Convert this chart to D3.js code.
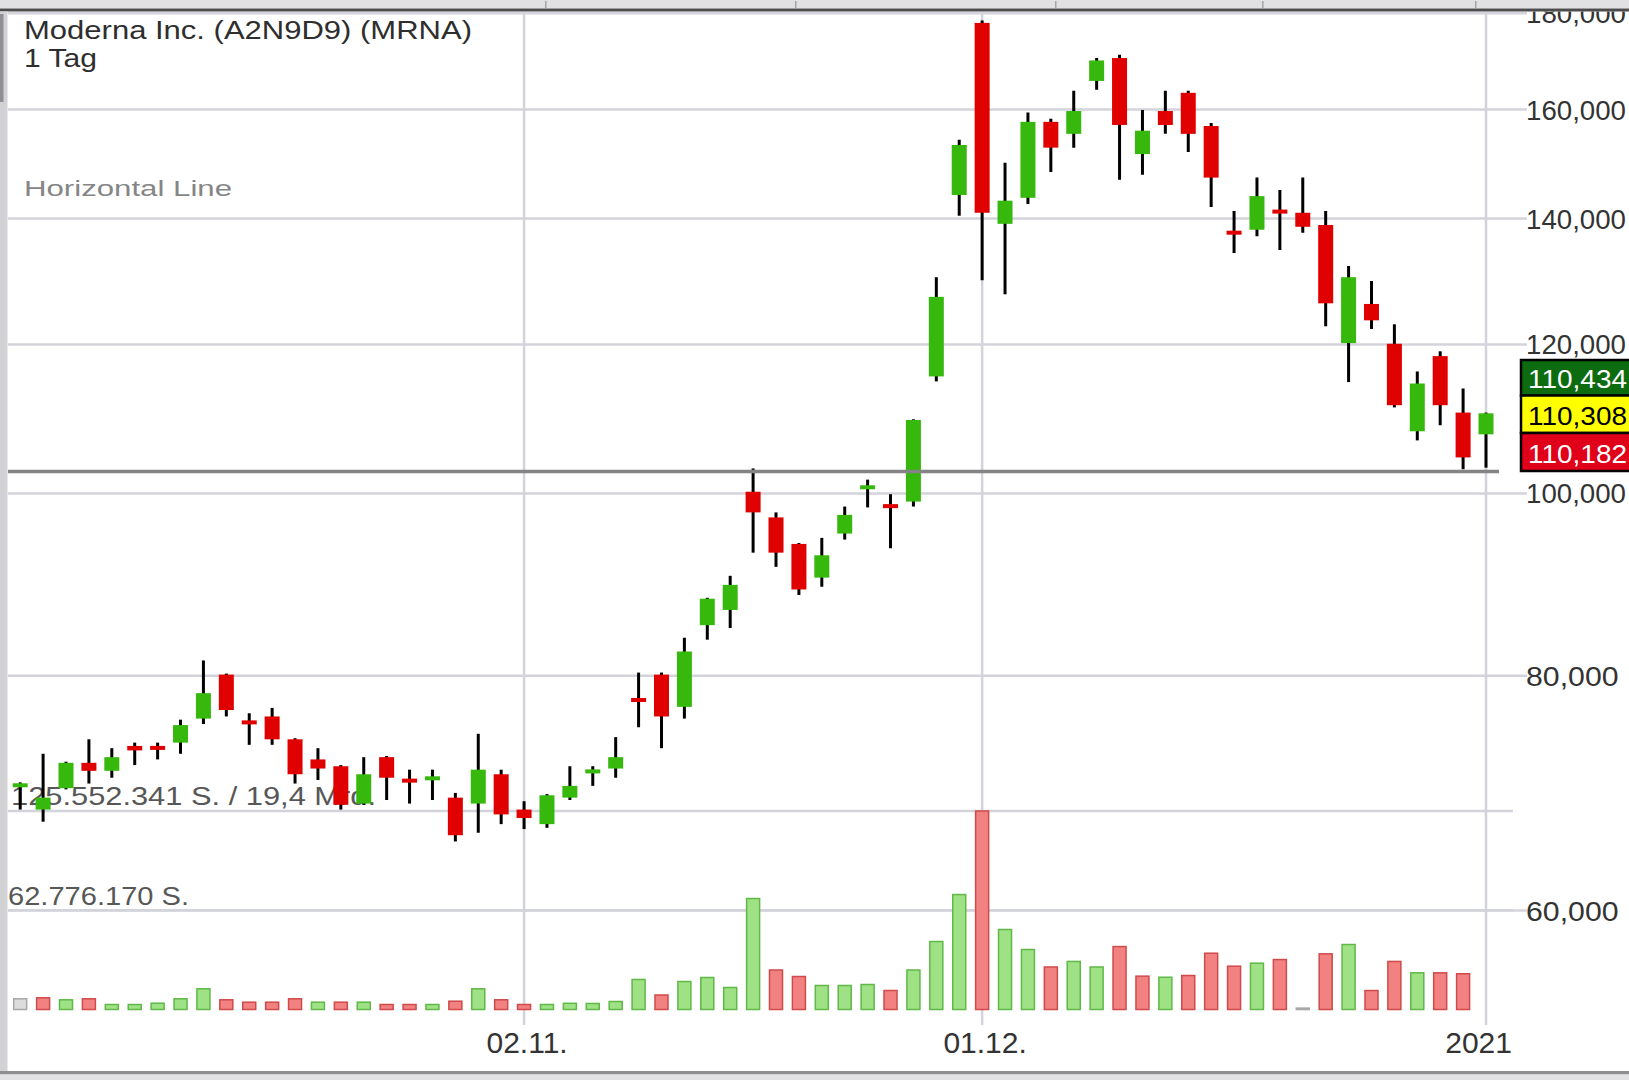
<!DOCTYPE html>
<html>
<head>
<meta charset="utf-8">
<script src="https://cdn.jsdelivr.net/npm/d3@7"></script>
<style>
  html, body { margin: 0; padding: 0; background: #ffffff; }
  svg { display: block; font-family: "Liberation Sans", Arial, Helvetica, sans-serif; }
</style>
</head>
<body>
<svg id="chart" width="1629" height="1080"></svg>
<script>
// ---------------- DATA ----------------
const title = "Moderna Inc. (A2N9D9) (MRNA)";
const period = "1 Tag";
const drawingLabel = "Horizontal Line";

const dates = [
  "2020-10-01","2020-10-02","2020-10-05","2020-10-06","2020-10-07","2020-10-08","2020-10-09",
  "2020-10-12","2020-10-13","2020-10-14","2020-10-15","2020-10-16",
  "2020-10-19","2020-10-20","2020-10-21","2020-10-22","2020-10-23",
  "2020-10-26","2020-10-27","2020-10-28","2020-10-29","2020-10-30",
  "2020-11-02","2020-11-03","2020-11-04","2020-11-05","2020-11-06",
  "2020-11-09","2020-11-10","2020-11-11","2020-11-12","2020-11-13",
  "2020-11-16","2020-11-17","2020-11-18","2020-11-19","2020-11-20",
  "2020-11-23","2020-11-24","2020-11-25","2020-11-27","2020-11-30",
  "2020-12-01","2020-12-02","2020-12-03","2020-12-04",
  "2020-12-07","2020-12-08","2020-12-09","2020-12-10","2020-12-11",
  "2020-12-14","2020-12-15","2020-12-16","2020-12-17","2020-12-18",
  "2020-12-21","2020-12-22","2020-12-23","2020-12-24",
  "2020-12-28","2020-12-29","2020-12-30","2020-12-31",
  "2021-01-04"
];

const opens = [
  69.8, 67.9, 69.7, 71.9, 71.2, 73.4, 73.4, 73.7, 75.9, 80.1, 75.7, 76.1,
  74.0, 72.2, 71.6, 68.4, 72.4, 70.45, 70.5, 68.9, 68.4, 70.9,
  67.9, 66.7, 68.9, 71.1, 71.4, 77.7, 80.1, 77.0, 85.1, 86.7,
  100.2, 97.1, 94.0, 90.2, 95.2, 100.7, 98.5, 99.0, 115.4, 144.1,
  177.9, 139.1, 143.6, 157.6, 155.3, 165.7, 170.4, 151.5, 159.7,
  163.3, 156.8, 137.7, 138.1, 141.3, 141.0, 138.9, 120.2, 126.1,
  120.1, 107.9, 118.3, 110.4, 107.5
];
const highs = [
  70.2, 72.7, 72.0, 74.0, 73.2, 73.7, 73.7, 75.8, 81.5, 80.2, 76.4, 76.9,
  74.1, 73.2, 71.7, 72.4, 72.5, 71.3, 71.3, 69.3, 74.5, 71.3,
  68.6, 69.2, 71.6, 71.6, 74.2, 80.3, 80.3, 83.8, 88.0, 90.4,
  103.1, 97.7, 94.1, 94.7, 98.4, 101.7, 99.9, 109.5, 130.3, 154.2,
  178.4, 149.9, 159.4, 158.2, 163.7, 170.4, 171.1, 159.9, 163.7,
  163.7, 157.4, 141.3, 147.2, 145.0, 147.2, 141.3, 132.1, 129.7,
  123.0, 116.1, 119.0, 113.7, 110.4
];
const lows = [
  67.9, 66.9, 69.6, 70.1, 70.6, 71.7, 72.2, 72.7, 75.4, 76.1, 73.5, 73.5,
  70.1, 70.4, 67.9, 68.3, 68.7, 68.4, 68.7, 65.3, 66.0, 66.7,
  66.3, 66.4, 68.7, 69.9, 70.6, 75.1, 73.2, 75.9, 83.6, 84.8,
  93.0, 91.4, 88.3, 89.2, 94.5, 98.3, 93.5, 98.4, 114.7, 140.5,
  129.8, 127.6, 142.5, 148.2, 152.7, 163.9, 146.8, 147.7, 155.3,
  151.9, 142.0, 134.2, 137.0, 134.7, 137.6, 122.7, 114.6, 122.3,
  111.1, 106.7, 108.7, 103.0, 103.2
];
const closes = [
  70.1, 68.9, 71.9, 71.2, 72.4, 73.0, 73.05, 75.3, 78.3, 76.7, 75.4, 74.0,
  70.9, 71.4, 68.3, 70.9, 70.6, 70.25, 70.6, 65.8, 71.3, 67.5,
  67.2, 69.1, 69.9, 71.2, 72.4, 77.6, 76.1, 82.4, 87.9, 89.4,
  97.7, 93.0, 88.9, 92.7, 97.4, 100.8, 98.4, 109.4, 127.2, 153.2,
  141.0, 143.1, 157.6, 152.7, 159.7, 169.9, 157.0, 155.9, 157.0,
  155.3, 147.2, 137.5, 143.9, 141.1, 138.6, 126.2, 130.3, 123.6,
  111.4, 114.4, 111.4, 104.5, 110.3
];

// daily volume (shares)
const volumes = [
  6770000, 7400000, 6140000, 6770000, 3160000, 3160000, 3980000, 6770000, 13090000, 6140000,
  4620000, 4620000, 6770000, 4620000, 4620000, 4620000, 3160000, 3160000, 3160000, 5250000,
  13090000, 6140000, 3160000, 3160000, 3920000, 3800000, 5060000, 18980000, 9170000, 17710000,
  20240000, 13920000, 70200000, 24980000, 20870000, 15180000, 15180000, 15810000, 12020000, 24980000,
  43000000, 72700000, 125552341, 50600000, 37950000, 26900000, 30400000, 26900000, 39800000, 21100000,
  20400000, 21500000, 35600000, 27400000, 29300000, 31600000, 900000, 35200000, 41100000, 12000000,
  30400000, 23200000, 23200000, 22600000, 0
];
// volume bar colour: 1 = up (green), -1 = down (red), 0 = unchanged (grey)
const volumeDirection = [
  0, -1, 1, -1, 1, 1, 1, 1, 1, -1, -1, -1, -1, 1, -1, 1, -1, -1, 1, -1,
  1, -1, -1, 1, 1, 1, 1, 1, -1, 1, 1, 1, 1, -1, -1, 1, 1, 1, -1, 1,
  1, 1, -1, 1, 1, -1, 1, 1, -1, -1, 1, -1, -1, -1, 1, -1, 0, -1, 1, -1,
  -1, 1, -1, -1, 0
];

const priceTicks = [60, 80, 100, 120, 140, 160, 180];
const dateTicks = ["2020-11-02", "2020-12-01", "2021-01-04"];
const dateTickLabels = ["02.11.", "01.12.", "2021"];
const volumeLevels = [62776170, 125552341];
const volumeLevelLabels = ["62.776.170 S.", "125.552.341 S. / 19,4 Mrd."];
const horizontalLineValue = 102.7;
const quoteValues = [110.434, 110.308, 110.182];   // ask / last / bid

// ---------------- CHART ----------------
const W = 1629, H = 1080;
const svg = d3.select("#chart");
const GREEN = "#36b80c", RED = "#e00000";

const plotLeft = 8, plotTop = 11.5, plotRight = 1527, plotBottom = 1071;

const x = d3.scalePoint().domain(dates).range([20.2, 1486]);
const y = d3.scaleLog().domain([60, 160]).range([910.6, 109.5]);
const yv = d3.scaleLinear().domain([0, 125552341]).range([1009.5, 811]);

const de = d3.formatLocale({decimal: ",", thousands: ".", grouping: [3], currency: ["", "€"]});
const fmtPrice = de.format(".3f");

function stretch(sel, factor, target, maxW) {
  sel.each(function () {
    const w = this.getComputedTextLength();
    let t = target != null ? target : w * factor;
    if (maxW != null) t = Math.min(t, maxW);
    d3.select(this).attr("textLength", t).attr("lengthAdjust", "spacingAndGlyphs");
  });
  return sel;
}

// background
svg.append("rect").attr("width", W).attr("height", H).attr("fill", "#ffffff");

const defs = svg.append("defs");
defs.append("clipPath").attr("id", "plotClip")
  .append("rect").attr("x", plotLeft).attr("y", plotTop)
  .attr("width", plotRight - plotLeft).attr("height", plotBottom - plotTop);
defs.append("clipPath").attr("id", "topClip")
  .append("rect").attr("x", plotLeft).attr("y", plotTop)
  .attr("width", W - plotLeft).attr("height", plotBottom - plotTop);

const grid = svg.append("g").attr("clip-path", "url(#plotClip)");

// price grid lines
grid.selectAll("line.pg").data(priceTicks).join("line")
  .attr("class", "pg")
  .attr("x1", plotLeft).attr("x2", plotRight)
  .attr("y1", d => y(d)).attr("y2", d => y(d))
  .attr("stroke", "#d3d3db").attr("stroke-width", 2.5);

// volume grid lines
grid.selectAll("line.vg").data(volumeLevels).join("line")
  .attr("class", "vg")
  .attr("x1", plotLeft).attr("x2", 1513)
  .attr("y1", d => yv(d)).attr("y2", d => yv(d))
  .attr("stroke", "#d3d3db").attr("stroke-width", 2.5);

// vertical grid lines
grid.selectAll("line.dg").data(dateTicks).join("line")
  .attr("class", "dg")
  .attr("x1", d => x(d)).attr("x2", d => x(d))
  .attr("y1", plotTop).attr("y2", 1025)
  .attr("stroke", "#d3d3db").attr("stroke-width", 2.5);

// header texts
const txt = svg.append("g").attr("fill", "#333");
stretch(txt.append("text").attr("x", 24).attr("y", 39).attr("font-size", 25).attr("fill", "#2e2e2e").text(title), 1, 448);
stretch(txt.append("text").attr("x", 24).attr("y", 67).attr("font-size", 25).attr("fill", "#2e2e2e").text(period), 1, 73);
stretch(txt.append("text").attr("x", 24).attr("y", 196).attr("font-size", 22).attr("fill", "#858585").text(drawingLabel), 1, 208);

// volume level labels
const volLabelPos = [{x: 8, y: 905, w: 181}, {x: 11, y: 805, w: 365}];
volumeLevelLabels.forEach((lab, i) => {
  stretch(txt.append("text").attr("x", volLabelPos[i].x).attr("y", volLabelPos[i].y)
    .attr("font-size", 25).attr("fill", "#575757").text(lab), 1, volLabelPos[i].w);
});

// volume bars
const volCol = {1: ["#9fe285", "#5fb848"], "-1": ["#f28282", "#d04a4a"], 0: ["#dcdcdc", "#a8a8a8"]};
const vb = svg.append("g").attr("clip-path", "url(#plotClip)");
const barW = 13;
vb.selectAll("rect").data(dates.map((d, i) => i).filter(i => volumes[i] > 0)).join("rect")
  .attr("x", i => x(dates[i]) - barW / 2)
  .attr("y", i => yv(volumes[i]))
  .attr("width", barW)
  .attr("height", i => Math.max(1.5, yv(0) - yv(volumes[i])))
  .attr("fill", i => volCol[volumeDirection[i]][0])
  .attr("stroke", i => volCol[volumeDirection[i]][1])
  .attr("stroke-width", 1.5);

// candles
const cg = svg.append("g").attr("clip-path", "url(#plotClip)");
const bodyW = 15;
const candles = cg.selectAll("g").data(dates.map((d, i) => i)).join("g");
candles.append("line")
  .attr("x1", i => x(dates[i])).attr("x2", i => x(dates[i]))
  .attr("y1", i => y(highs[i])).attr("y2", i => y(lows[i]))
  .attr("stroke", "#000").attr("stroke-width", 3);
candles.append("rect")
  .attr("x", i => x(dates[i]) - bodyW / 2)
  .attr("y", i => {
    const top = y(Math.max(opens[i], closes[i]));
    const h = Math.abs(y(opens[i]) - y(closes[i]));
    return h < 4 ? (top + h / 2 - 2) : top;
  })
  .attr("width", bodyW)
  .attr("height", i => Math.max(4, Math.abs(y(opens[i]) - y(closes[i]))))
  .attr("fill", i => closes[i] >= opens[i] ? GREEN : RED);

// horizontal drawing line
svg.append("line")
  .attr("x1", plotLeft).attr("x2", 1499)
  .attr("y1", y(horizontalLineValue)).attr("y2", y(horizontalLineValue))
  .attr("stroke", "#848484").attr("stroke-width", 3.5);

// right price labels (top label is cut by the frame, as in the original)
const rl = svg.append("g").attr("clip-path", "url(#topClip)");
rl.selectAll("text").data(priceTicks).join("text")
  .attr("x", 1526).attr("y", d => y(d) + 10)
  .attr("font-size", 27.5).attr("fill", "#333")
  .text(d => fmtPrice(d))
  .call(s => stretch(s, 1.1, null, 100));

// quote boxes
const boxColors = [["#0d6b10", "#ffffff"], ["#ffff00", "#000000"], ["#e0001a", "#ffffff"]];
const boxY = [360, 395.5, 433];
const boxH = [35.5, 37.5, 38];
const qb = svg.append("g");
quoteValues.forEach((v, i) => {
  qb.append("rect").attr("x", 1521).attr("y", boxY[i]).attr("width", 120).attr("height", boxH[i])
    .attr("fill", boxColors[i][0]).attr("stroke", "#000").attr("stroke-width", 2.5);
  stretch(qb.append("text").attr("x", 1528).attr("y", boxY[i] + boxH[i] - 8)
    .attr("font-size", 26).attr("fill", boxColors[i][1]).text(fmtPrice(v)), 1.2, null, 99);
});

// date labels
const dl = svg.append("g");
dateTicks.forEach((d, i) => {
  const t = dl.append("text").attr("y", 1053).attr("font-size", 30).attr("fill", "#333")
    .attr("text-anchor", "middle").text(dateTickLabels[i]);
  const w = t.node().getComputedTextLength();
  const cx = Math.min(x(d) + 3, 1512 - w / 2);
  t.attr("x", cx);
});

// chrome: top band, left strip, bottom band
svg.append("rect").attr("x", 0).attr("y", 0).attr("width", W).attr("height", 8.5).attr("fill", "#e1e1e4");
[545, 795, 1055, 1262, 1475].forEach(px => {
  svg.append("rect").attr("x", px).attr("y", 1).attr("width", 1.5).attr("height", 7).attr("fill", "#a5a5a8");
});
svg.append("rect").attr("x", 0).attr("y", 8.5).attr("width", W).attr("height", 3).attr("fill", "#4c4c4c");
svg.append("rect").attr("x", 0).attr("y", 11.5).attr("width", 7.5).attr("height", 1060).attr("fill", "#d2d2d4");
svg.append("rect").attr("x", 0).attr("y", 14).attr("width", 3.5).attr("height", 88).attr("fill", "#909092");
svg.append("rect").attr("x", 0).attr("y", 1071).attr("width", W).attr("height", 3.5).attr("fill", "#8e8e90");
svg.append("rect").attr("x", 0).attr("y", 1074.5).attr("width", W).attr("height", 5.5).attr("fill", "#e2e2e4");
</script>
</body>
</html>
